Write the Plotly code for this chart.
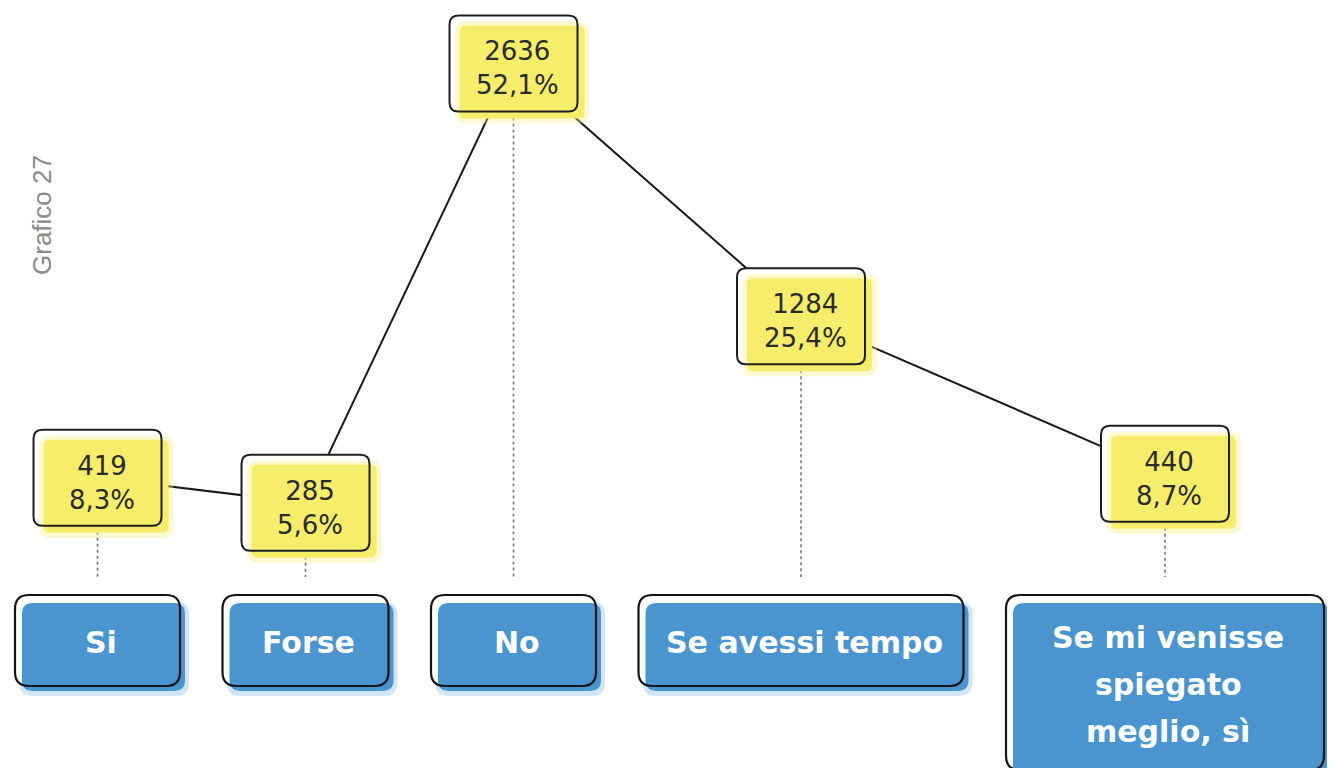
import plotly.graph_objects as go

# ---------------- data ----------------
categories = ["Si", "Forse", "No", "Se avessi tempo", "Se mi venisse\nspiegato\nmeglio, sì"]
counts = [419, 285, 2636, 1284, 440]
percent_labels = ["8,3%", "5,6%", "52,1%", "25,4%", "8,7%"]
side_label = "Grafico 27"

# ---------------- layout constants ----------------
PAGE_OFF = 8                      # default body margin of the page
FW, FH = 1335 - 2 * PAGE_OFF, 776 - 2 * PAGE_OFF
CAT_W = [165, 166, 165, 325, 318]     # category box widths (px)
CAT_H = [91, 91, 91, 91, 175]         # category box heights (px)
CAT_GAP = 42.5
CAT_LEFT = 15
CAT_TOP = 595
BASE_PX = 577                         # where dotted drop lines end (page px)
ZERO_PX, PX_PER_UNIT = 556.1, 0.18689  # value scale: page pixel of 0, px per unit


def val_at(px):
    return (ZERO_PX - px) / PX_PER_UNIT


Y_RANGE = [val_at(PAGE_OFF + FH), val_at(PAGE_OFF)]

centers = []
x = CAT_LEFT
for w in CAT_W:
    centers.append(x + w / 2)
    x += w + CAT_GAP

base_val = val_at(BASE_PX)


def rr(x0, y0, x1, y1, r, flip=False):
    """rounded-rect path; y grows downward unless flip (pixel mode: up)."""
    s = -1 if flip else 1
    Y0, Y1 = s * y0, s * y1
    ry = s * r
    return (f"M{x0 + r},{Y0} L{x1 - r},{Y0} Q{x1},{Y0} {x1},{Y0 + ry} "
            f"L{x1},{Y1 - ry} Q{x1},{Y1} {x1 - r},{Y1} L{x0 + r},{Y1} "
            f"Q{x0},{Y1} {x0},{Y1 - ry} L{x0},{Y0 + ry} Q{x0},{Y0} {x0 + r},{Y0} Z")


fig = go.Figure()

# dotted drop lines
dx, dy = [], []
for c, v in zip(centers, counts):
    dx += [c, c, None]
    dy += [v, base_val, None]
fig.add_trace(go.Scatter(x=dx, y=dy, mode="lines", hoverinfo="skip",
                         line=dict(color="#777777", width=1.6, dash="dot"),
                         showlegend=False))

# connecting line
fig.add_trace(go.Scatter(x=centers, y=counts, mode="lines", hoverinfo="skip",
                         line=dict(color="#1a1a1a", width=2), showlegend=False))

shapes = []
annotations = []

# value boxes (pixel-sized, anchored at data points)
BW, BH = 128, 96
for c, v in zip(centers, counts):
    common = dict(type="path", xref="x", yref="y", xsizemode="pixel", ysizemode="pixel",
                  xanchor=c, yanchor=v, layer="above")
    shapes.append(dict(common, path=rr(-BW / 2, -BH / 2, BW / 2, BH / 2, 9, flip=True),
                       fillcolor="white", line=dict(width=0)))
    shapes.append(dict(common, path=rr(-BW / 2 + 6, -BH / 2 + 6, BW / 2 + 12, BH / 2 + 12, 10, flip=True),
                       fillcolor="rgba(245,238,120,0.35)", line=dict(width=0)))
    shapes.append(dict(common, path=rr(-BW / 2 + 10, -BH / 2 + 10, BW / 2 + 7, BH / 2 + 7, 6, flip=True),
                       fillcolor="#f6ee6a", line=dict(width=0)))
    shapes.append(dict(common, path=rr(-BW / 2, -BH / 2, BW / 2, BH / 2, 9, flip=True),
                       fillcolor="rgba(0,0,0,0)", line=dict(color="#1e1e1e", width=2)))

for c, v, p in zip(centers, counts, percent_labels):
    annotations.append(dict(x=c, y=v, xref="x", yref="y", text=f"{v}<br>{p}",
                            showarrow=False, xshift=4, yshift=-5,
                            font=dict(family="DejaVu Sans", size=26, color="#2a2a2a")))

# category boxes (page-pixel coordinates on overlay axis)
x = CAT_LEFT
for w, h, lab in zip(CAT_W, CAT_H, categories):
    x0, x1 = x, x + w
    y0, y1 = CAT_TOP, CAT_TOP + h
    base = dict(type="path", xref="x", yref="y2", layer="above")
    shapes.append(dict(base, path=rr(x0 + 4, y0 + 6, x1 + 9, y1 + 10, 14),
                       fillcolor="rgba(90,160,220,0.28)", line=dict(width=0)))
    shapes.append(dict(base, path=rr(x0, y0, x1, y1, 14),
                       fillcolor="white", line=dict(width=0)))
    shapes.append(dict(base, path=rr(x0 + 7, y0 + 8, x1 + 5, y1 + 5, 11),
                       fillcolor="#4a94d0", line=dict(width=0)))
    shapes.append(dict(base, path=rr(x0, y0, x1, y1, 14),
                       fillcolor="rgba(0,0,0,0)", line=dict(color="#151515", width=2.2)))
    lines = lab.split("\n")
    n = len(lines)
    ymid = (y0 + y1) / 2 + 2
    step = 47
    for k, ln in enumerate(lines):
        yy = ymid + (k - (n - 1) / 2) * step
        annotations.append(dict(x=(x0 + x1) / 2 + 3, y=yy, xref="x", yref="y2", text=ln,
                                showarrow=False,
                                font=dict(family="DejaVu Sans", size=30, color="white",
                                          weight="bold")))
    x += w + CAT_GAP

annotations.append(dict(x=42, y=215, xref="x", yref="y2", text=side_label, textangle=-90,
                        showarrow=False,
                        font=dict(family="Liberation Sans", size=26, color="#8a8a8a")))

fig.update_layout(
    width=FW, height=FH,
    margin=dict(l=0, r=0, t=0, b=0),
    paper_bgcolor="white", plot_bgcolor="white",
    xaxis=dict(range=[PAGE_OFF, PAGE_OFF + FW], visible=False, fixedrange=True),
    yaxis=dict(range=Y_RANGE, visible=False, fixedrange=True),
    yaxis2=dict(range=[PAGE_OFF + FH, PAGE_OFF], visible=False, overlaying="y",
                fixedrange=True),
    shapes=shapes, annotations=annotations,
    showlegend=False,
)

fig.write_html("out.html")
